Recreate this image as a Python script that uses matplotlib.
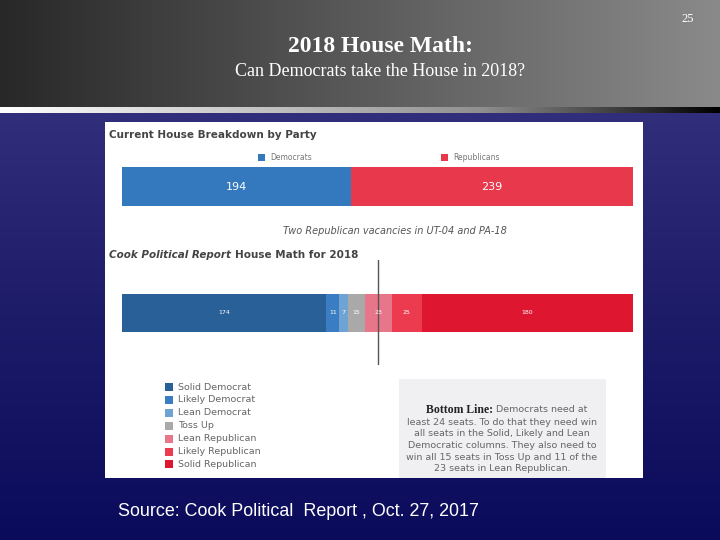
import numpy as np
import matplotlib
matplotlib.use("Agg")
import matplotlib.pyplot as plt
from matplotlib.colors import LinearSegmentedColormap
from matplotlib.patches import Rectangle

# ---------------- data ----------------
current_parties = ["Democrats", "Republicans"]
current_seats = [194, 239]
current_colors = ["#3478bd", "#e8384c"]

rating_names = ["Solid Democrat", "Likely Democrat", "Lean Democrat", "Toss Up",
                "Lean Republican", "Likely Republican", "Solid Republican"]
rating_seats = [174, 11, 7, 15, 23, 25, 180]
rating_colors = ["#2a6098", "#3a7dc2", "#6fa3d4", "#a9a9a9",
                 "#e8768a", "#ec3b4f", "#de1630"]
majority = 218

bottom_line = ["least 24 seats. To do that they need win",
               "all seats in the Solid, Likely and Lean",
               "Democratic columns. They also need to",
               "win all 15 seats in Toss Up and 11 of the",
               "23 seats in Lean Republican."]

W, H = 720, 540
fig = plt.figure(figsize=(7.2, 5.4), dpi=100)

# ---------------- slide background ----------------
bg = fig.add_axes([0, 0, 1, 1], zorder=0)
bg.set_xlim(0, W); bg.set_ylim(H, 0); bg.axis("off")

head = LinearSegmentedColormap.from_list("head", ["#282828", "#5a5a5a", "#8a8a8a"])
bg.imshow(np.linspace(0, 1, 256)[None, :], cmap=head, aspect="auto",
          extent=[0, W, 107, 0])
band = LinearSegmentedColormap.from_list("band", ["#ffffff", "#c8c8c8", "#909090", "#000000"])
bg.imshow(np.linspace(0, 1, 256)[None, :], cmap=band, aspect="auto",
          extent=[0, W, 113, 107])
body = LinearSegmentedColormap.from_list("body", ["#312e7b", "#1c1b68", "#0b0b5c"])
bg.imshow(np.linspace(0, 1, 256)[:, None], cmap=body, aspect="auto",
          extent=[0, W, H, 113])

bg.text(688, 19, "25", color="white", fontsize=9, family="Liberation Serif",
        ha="center", va="center")
bg.text(381, 46, "2018 House Math:", color="white", fontsize=17, fontweight="bold",
        family="Liberation Serif", ha="center", va="center")
bg.text(380, 72, "Can Democrats take the House in 2018?", color="white", fontsize=13,
        family="Liberation Serif", ha="center", va="center")

# white panel
bg.add_patch(Rectangle((105, 122), 538, 356, facecolor="white", edgecolor="none"))
bg.add_patch(Rectangle((399, 379), 207, 99, facecolor="#f0f0f2", edgecolor="none"))

bg.text(118, 511, "Source: Cook Political  Report , Oct. 27, 2017", color="white",
        fontsize=12.9, family="Liberation Sans", ha="left", va="center")

pf = "DejaVu Sans"
bg.text(109, 135, "Current House Breakdown by Party", color="#444444", fontsize=7.5,
        fontweight="bold", family=pf, ha="left", va="center")
for x, name, col in zip([258, 441], current_parties, current_colors):
    bg.add_patch(Rectangle((x, 154), 7, 7, facecolor=col, edgecolor="none"))
    bg.text(x + 12, 158, name, color="#777777", fontsize=5.5, family=pf,
            ha="left", va="center")
bg.text(395, 231, "Two Republican vacancies in UT-04 and PA-18", color="#555555",
        fontsize=7, style="italic", family=pf, ha="center", va="center")
t1 = bg.text(109, 255, "Cook Political Report", color="#444444", fontsize=7.5,
             fontweight="bold", style="italic", family=pf, ha="left", va="center")
bg.annotate("House Math for 2018", xy=(1, 0.5), xycoords=t1, xytext=(3, 0),
            textcoords="offset points", color="#444444", fontsize=7.5,
            fontweight="bold", family=pf, ha="left", va="center")

# legend
for i, (name, col) in enumerate(zip(rating_names, rating_colors)):
    y = 387 + i * 12.9
    bg.add_patch(Rectangle((165, y - 4), 8, 8, facecolor=col, edgecolor="none"))
    bg.text(178, y, name, color="#666666", fontsize=6.8, family=pf, ha="left", va="center")

# bottom line box
bl = bg.text(426, 410, "Bottom Line:", color="#222222", fontsize=8.5, fontweight="bold",
             family="Liberation Serif", ha="left", va="center")
bg.annotate("Democrats need at", xy=(1, 0.5), xycoords=bl, xytext=(2, 0),
            textcoords="offset points", color="#666666", fontsize=6.8, family=pf,
            ha="left", va="center")
for i, line in enumerate(bottom_line):
    bg.text(502, 422.5 + i * 11.5, line, color="#666666", fontsize=6.8, family=pf,
            ha="center", va="center")

# ---------------- current house bar ----------------
ax1 = fig.add_axes([122 / W, 1 - 206 / H, 511 / W, 39 / H], zorder=2)
left = 0
for seats, col in zip(current_seats, current_colors):
    ax1.barh(0, seats, left=left, height=1, color=col, edgecolor="none")
    ax1.text(left + seats / 2, 0, str(seats), color="white", fontsize=8,
             family=pf, ha="center", va="center")
    left += seats
ax1.set_xlim(0, sum(current_seats)); ax1.set_ylim(-0.5, 0.5)
ax1.axis("off")

# ---------------- cook ratings bar ----------------
ax2 = fig.add_axes([122 / W, 1 - 365 / H, 511 / W, 105 / H], zorder=2)
ax2.patch.set_alpha(0)
bar_lo = (365 - 332) / 105
bar_hi = (365 - 294) / 105
left = 0
for seats, col in zip(rating_seats, rating_colors):
    ax2.barh((bar_lo + bar_hi) / 2, seats, left=left, height=bar_hi - bar_lo,
             color=col, edgecolor="none")
    ax2.text(left + seats / 2, (bar_lo + bar_hi) / 2, str(seats), color="white",
             fontsize=4.5, family=pf, ha="center", va="center")
    left += seats
ax2.axvline(majority, color="#555555", lw=1)
ax2.set_xlim(0, sum(rating_seats)); ax2.set_ylim(0, 1)
ax2.axis("off")

fig.savefig("out.png", dpi=100)
